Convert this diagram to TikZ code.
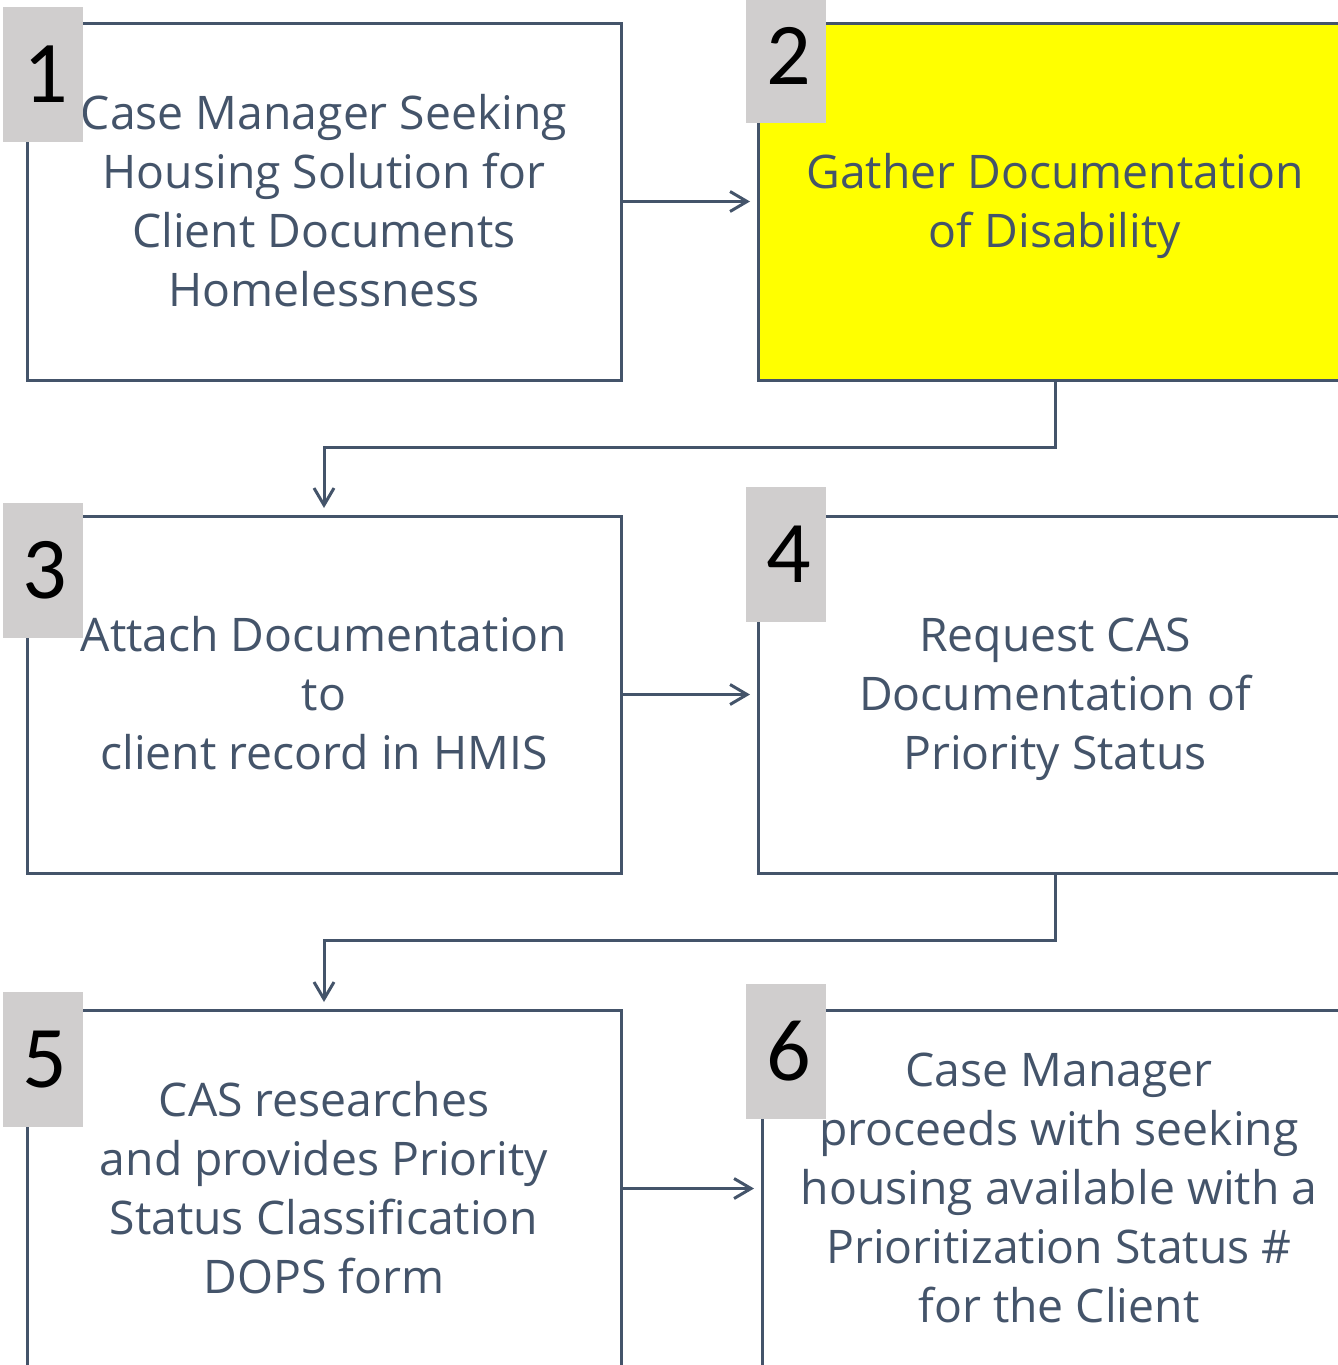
\documentclass[tikz,border=0pt]{standalone}
\usepackage{fontspec}
\setmainfont{Open Sans}
\newfontfamily\numfont{Carlito}
\usetikzlibrary{arrows.meta}
\definecolor{ink}{HTML}{44546A}
\definecolor{tag}{HTML}{D0CECE}
\definecolor{hi}{HTML}{FFFF00}
\newcommand\tstrt{\rule{0pt}{50.3pt}}
\begin{document}
\begin{tikzpicture}[x=1pt,y=-1pt,
  stepbox/.style={draw=ink,line width=3pt,fill=white,minimum width=594pt,minimum height=357pt,
    inner sep=0pt,outer sep=0pt,text=ink,align=center,
    font=\fontsize{46.3}{59}\selectfont},
  numtag/.style={fill=tag,minimum width=80pt,minimum height=135pt,inner sep=0pt,outer sep=0pt,
    text=black,font=\numfont\fontsize{88}{88}\selectfont},
  arr/.style={draw=ink,line width=3pt,-{Straight Barb[length=17pt,width=20pt,line width=3pt]}}]
\useasboundingbox (0,0) rectangle (1338,1365);
\clip (0,0) rectangle (1338,1365);
\node[stepbox] (b1) at (324,201.5) {\tstrt Case Manager Seeking\\Housing Solution for\\Client Documents\\Homelessness\strut};
\node[stepbox,fill=hi] (b2) at (1055,201.5) {\tstrt Gather Documentation\\of Disability\strut};
\node[stepbox] (b3) at (324,694.5) {\tstrt Attach Documentation\\to\\client record in HMIS\strut};
\node[stepbox] (b4) at (1055,694.5) {\tstrt Request CAS\\Documentation of\\Priority Status\strut};
\node[stepbox] (b5) at (324,1188.5) {\tstrt CAS researches\\and provides Priority\\Status Classification\\DOPS form\strut};
\node[stepbox] (b6) at (1059,1188.5) {\tstrt Case Manager\\proceeds with seeking\\housing available with a\\Prioritization Status \#\\for the Client\strut};
\node[numtag] (t1) at (43,74.5) {\hspace*{5pt}1};
\node[numtag] (t2) at (786,55.5) {\hspace*{5pt}2};
\node[numtag] (t3) at (42.5,570.5) {\hspace*{5pt}3};
\node[numtag] (t4) at (786,554.5) {\hspace*{5pt}4};
\node[numtag] (t5) at (42.5,1059.5) {\hspace*{5pt}5};
\node[numtag] (t6) at (786,1051.5) {\hspace*{5pt}6};
\draw[arr,shorten >=8pt] (b1.east) -- (b2.west);
\draw[arr,shorten >=8pt] (b3.east) -- (b4.west);
\draw[arr,shorten >=8pt] (b5.east) -- (b6.west);
\draw[arr,shorten >=8pt] (b2.south) -- ++(0,67) -| (b3.north);
\draw[arr,shorten >=8pt] (b4.south) -- ++(0,67) -| (b5.north);
\end{tikzpicture}
\end{document}
